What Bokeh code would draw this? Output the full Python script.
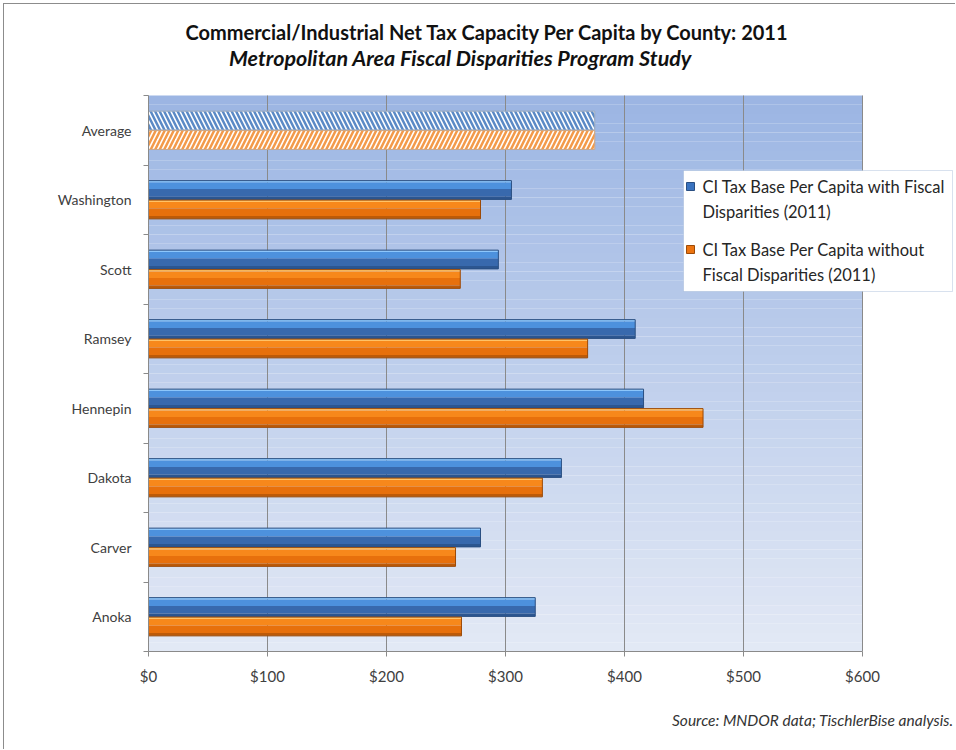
import numpy as np
from bokeh.plotting import figure
from bokeh.models import (FixedTicker, NumeralTickFormatter, Label, BoxAnnotation, Title)
from bokeh.embed import file_html
from bokeh.resources import INLINE

# ---------------- data ----------------
categories = ["Anoka", "Carver", "Dakota", "Hennepin", "Ramsey", "Scott", "Washington", "Average"]
with_fd = [325, 279, 347, 416, 409, 294, 305]
without_fd = [263, 258, 331, 466, 369, 262, 279]
average_with = 375
average_without = 375
x_ticks = [0, 100, 200, 300, 400, 500, 600]

title_text = "Commercial/Industrial Net Tax Capacity Per Capita by County: 2011"
subtitle_text = "Metropolitan Area Fiscal Disparities Program Study"
source_text = "Source: MNDOR data; TischlerBise analysis."
legend_with = ["CI Tax Base Per Capita with Fiscal", "Disparities (2011)"]
legend_without = ["CI Tax Base Per Capita without", "Fiscal Disparities (2011)"]

# ---------------- layout constants (window px) ----------------
WIN_W, WIN_H = 956, 750
OX, OY = 4, 4                          # chart box starts here (thin border)
W, H = WIN_W - OX, WIN_H - OY          # canvas size
FL, F600, FT, FB = 148, 862, 95, 651   # plot-area edges in window px
XMAX = 600
NCAT = len(categories)
PXX = (F600 - FL) / XMAX
PXY = (FB - FT) / NCAT

def px_x(px):
    return (px - FL) / PXX

def px_y(py):
    return (FB - py) / PXY

FONT = "Lato"

p = figure(width=W, height=H, x_range=(0, px_x(WIN_W)), y_range=(0, px_y(OY)),
           output_backend="svg", toolbar_location=None,
           min_border_left=FL - OX, min_border_right=0,
           min_border_top=0, min_border_bottom=WIN_H - FB)
p.styles = {"margin-left": "3px", "margin-top": "3px",
            "border-left": "1px solid #8c8c8c", "border-top": "1px solid #8c8c8c"}
p.outline_line_color = None
p.border_fill_color = "white"
p.background_fill_color = "white"

# plot-area background: vertical gradient
NS = 60
top_c = np.array([155, 181, 227])
bot_c = np.array([227, 233, 245])
ys = np.linspace(NCAT, 0, NS + 1)
cols = []
for k in range(NS):
    t = (k + 0.5) / NS
    c = top_c * (1 - t) + bot_c * t
    cols.append("#%02x%02x%02x" % tuple(int(round(v)) for v in c))
p.quad(left=0, right=XMAX, top=ys[:-1], bottom=ys[1:], fill_color=cols,
       line_color=None, level="image")

# vertical grid lines limited to the plot area
p.xgrid.visible = False
p.ygrid.visible = False
p.segment(x0=x_ticks, x1=x_ticks, y0=0, y1=NCAT, line_color="#8a8a8a",
          line_width=1, level="underlay")

# axes
p.xaxis.ticker = FixedTicker(ticks=x_ticks)
p.xaxis.bounds = (0, XMAX)
p.xaxis.formatter = NumeralTickFormatter(format="$0")
p.xaxis.axis_line_color = "#8a8a8a"
p.xaxis.major_tick_line_color = "#8a8a8a"
p.xaxis.major_tick_out = 5
p.xaxis.major_tick_in = 0
p.xaxis.minor_tick_line_color = None
p.xaxis.major_label_text_font = FONT
p.xaxis.major_label_text_font_size = "15px"
p.xaxis.major_label_text_color = "#404040"
p.xaxis.major_label_standoff = 10

centers = [i + 0.5 for i in range(NCAT)]
p.yaxis.ticker = FixedTicker(ticks=centers, minor_ticks=list(range(NCAT + 1)))
p.yaxis.bounds = (0, NCAT)
p.yaxis.major_label_overrides = {c: name for c, name in zip(centers, categories)}
p.yaxis.axis_line_color = "#8a8a8a"
p.yaxis.major_tick_line_color = None
p.yaxis.minor_tick_line_color = "#8a8a8a"
p.yaxis.minor_tick_out = 5
p.yaxis.minor_tick_in = 0
p.yaxis.major_label_text_font = FONT
p.yaxis.major_label_text_font_size = "14px"
p.yaxis.major_label_text_color = "#404040"
p.yaxis.major_label_standoff = 11

# bars
BH = 0.27
OFF = 0.14
blue_profile = [(0.00, 0.10, "#8cc6fb"), (0.10, 0.45, "#4d91dd"),
                (0.45, 0.85, "#3869ad"), (0.85, 1.00, "#2c5690")]
orange_profile = [(0.00, 0.10, "#ffc266"), (0.10, 0.45, "#f7881b"),
                  (0.45, 0.85, "#e7700c"), (0.85, 1.00, "#bd5a08")]

def shaded_bars(yc, vals, profile, edge):
    yc = np.asarray(yc, dtype=float)
    top = yc + BH / 2
    for f0, f1, col in profile:
        mid = top - BH * (f0 + f1) / 2
        p.hbar(y=mid, right=vals, left=0, height=BH * (f1 - f0),
               fill_color=col, line_color=None)
    p.hbar(y=yc, right=vals, left=0, height=BH, fill_color=None,
           line_color=edge, line_width=1)

county_centers = centers[:len(with_fd)]
shaded_bars([c + OFF for c in county_centers], with_fd, blue_profile, "#2a4f82")
shaded_bars([c - OFF for c in county_centers], without_fd, orange_profile, "#9c4a07")

avg_c = centers[len(with_fd)]
p.hbar(y=[avg_c + OFF], right=[average_with], left=0, height=BH,
       fill_color="white", hatch_pattern="\\", hatch_color="#5b8ac6",
       hatch_scale=9, hatch_weight=2.5, line_color="#9aa8bd", line_width=1)
p.hbar(y=[avg_c - OFF], right=[average_without], left=0, height=BH,
       fill_color="white", hatch_pattern="/", hatch_color="#f39a4a",
       hatch_scale=9, hatch_weight=2.5, line_color="#c9a585", line_width=1)

# titles
p.add_layout(Label(x=px_x(487), y=px_y(31), text=title_text, text_align="center",
                   text_baseline="middle", text_font=FONT, text_font_size="20px",
                   text_font_style="bold", text_color="#111111"))
p.add_layout(Label(x=px_x(460), y=px_y(57), text=subtitle_text, text_align="center",
                   text_baseline="middle", text_font=FONT, text_font_size="21.5px",
                   text_font_style="bold italic", text_color="#111111"))

# source note below the x axis
p.add_layout(Title(text=source_text, align="right", offset=3, standoff=43,
                   text_font=FONT, text_font_size="15.5px", text_font_style="italic",
                   text_color="#333333"), "below")

# legend box
p.add_layout(BoxAnnotation(left=px_x(683), right=px_x(952), top=px_y(170), bottom=px_y(291),
                           fill_color="white", fill_alpha=1.0, line_color="#7f9cc8",
                           line_width=1))
for (lines, y0) in [(legend_with, 186), (legend_without, 249)]:
    for j, t in enumerate(lines):
        p.add_layout(Label(x=px_x(702), y=px_y(y0 + 25 * j), text=t, text_align="left",
                           text_baseline="middle", text_font=FONT,
                           text_font_size="16.5px", text_color="#262626"))
p.rect(x=[px_x(690), px_x(690)], y=[px_y(186), px_y(249)], width=8, height=8,
       width_units="screen", height_units="screen",
       fill_color=["#3a73c0", "#ec7410"], line_color=["#2a4f82", "#9c4a07"], level="overlay")

open("out.html", "w").write(file_html(p, INLINE))
